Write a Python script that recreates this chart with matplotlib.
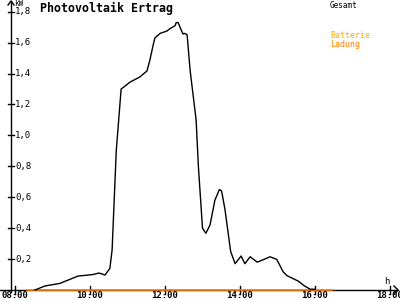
import numpy as np
import matplotlib
matplotlib.use('Agg')
import matplotlib.pyplot as plt

# Gesamt (kW) over time of day (hours)
t_gesamt = [8.53, 8.8, 9.2, 9.68, 10.08, 10.24, 10.4, 10.53, 10.59, 10.7, 10.83,
            11.07, 11.33, 11.52, 11.6, 11.68, 11.73, 11.87, 12.05, 12.13, 12.27,
            12.3, 12.35, 12.4, 12.48, 12.53, 12.59, 12.67, 12.83, 12.89, 13.0,
            13.09, 13.2, 13.33, 13.45, 13.51, 13.6, 13.75, 13.87, 14.03, 14.13,
            14.27, 14.46, 14.6, 14.8, 14.98, 15.15, 15.25, 15.55, 15.71, 15.87, 16.0]
p_gesamt = [0.0, 0.026, 0.043, 0.09, 0.10, 0.11, 0.097, 0.14, 0.26, 0.9, 1.30,
            1.345, 1.378, 1.417, 1.49, 1.58, 1.63, 1.66, 1.675, 1.69, 1.71,
            1.73, 1.73, 1.70, 1.656, 1.66, 1.65, 1.42, 1.10, 0.80, 0.40,
            0.367, 0.42, 0.58, 0.65, 0.64, 0.52, 0.25, 0.17, 0.22, 0.17,
            0.215, 0.18, 0.194, 0.215, 0.198, 0.118, 0.093, 0.058, 0.028, 0.005, 0.005]

# Ladung (kW)
t_ladung = [8.32, 16.45]
p_ladung = [0.0, 0.0]

y_ticks = [0.2, 0.4, 0.6, 0.8, 1.0, 1.2, 1.4, 1.6, 1.8]
x_ticks = [8, 10, 12, 14, 16, 18]
x_labels = ['08:00', '10:00', '12:00', '14:00', '16:00', '18:00']

# pixel mapping: 37.5 px per hour, 154.6 px per kW
px_x = 1 / 37.5
px_y = 1 / 154.6

fig = plt.figure(figsize=(4, 3), dpi=100)
ax = fig.add_axes([0, 0, 1, 1])
ax.set_xlim(8 - 15 * px_x, 8 + 385 * px_x)
ax.set_ylim(-10 * px_y, 290 * px_y)
ax.axis('off')

mono = 'DejaVu Sans Mono'
ax_x = 8 - 4 * px_x

# axes with open arrow heads
x_end = 8 + 383 * px_x
y_end = 289 * px_y
ax.plot([8 - 15 * px_x, x_end], [0, 0], color='black', lw=1)
ax.plot([ax_x, ax_x], [-2 * px_y, y_end], color='black', lw=1)
ax.plot([x_end - 4 * px_x, x_end, x_end - 4 * px_x], [4 * px_y, 0, -4 * px_y],
        color='black', lw=1)
ax.plot([ax_x - 3 * px_x, ax_x, ax_x + 3 * px_x], [y_end - 4 * px_y, y_end, y_end - 4 * px_y],
        color='black', lw=1)

# ticks
for v in y_ticks:
    ax.plot([ax_x - 3 * px_x, ax_x + 3 * px_x], [v, v], color='black', lw=1)
    ax.text(ax_x + 4 * px_x, v, ('%.1f' % v).replace('.', ','), fontsize=6.5,
            family=mono, va='center', ha='left')
for t, lab in zip(x_ticks, x_labels):
    ax.plot([t, t], [-4 * px_y, 4 * px_y], color='black', lw=1)
    ax.text(t, -6 * px_y, lab, fontsize=6.5, family=mono, va='center', ha='center',
            fontweight='bold')

ax.text(ax_x + 3 * px_x, 286 * px_y, 'kW', fontsize=5.5, family=mono, va='center', ha='left')
ax.text(8 + 372 * px_x, 9 * px_y, 'h', fontsize=6.5, family=mono, va='center', ha='center')

# data
ax.plot(t_ladung, p_ladung, color='#ff8000', lw=1.2)
ax.plot(t_gesamt, p_gesamt, color='black', lw=1)

# title and legend
fig.text(40 / 400, 1 - 8 / 300, 'Photovoltaik Ertrag', fontsize=8.4, family=mono,
         fontweight='bold', va='center', ha='left')
fig.text(330 / 400, 1 - 5 / 300, 'Gesamt', fontsize=5.5, family=mono, va='center', ha='left')
fig.text(330 / 400, 1 - 36 / 300, 'Batterie', fontsize=6, family=mono, va='center',
         ha='left', color='#ffaa00')
fig.text(330 / 400, 1 - 44 / 300, 'Ladung', fontsize=6, family=mono, va='center',
         ha='left', color='#ff8000')

fig.savefig('out.png', dpi=100)
